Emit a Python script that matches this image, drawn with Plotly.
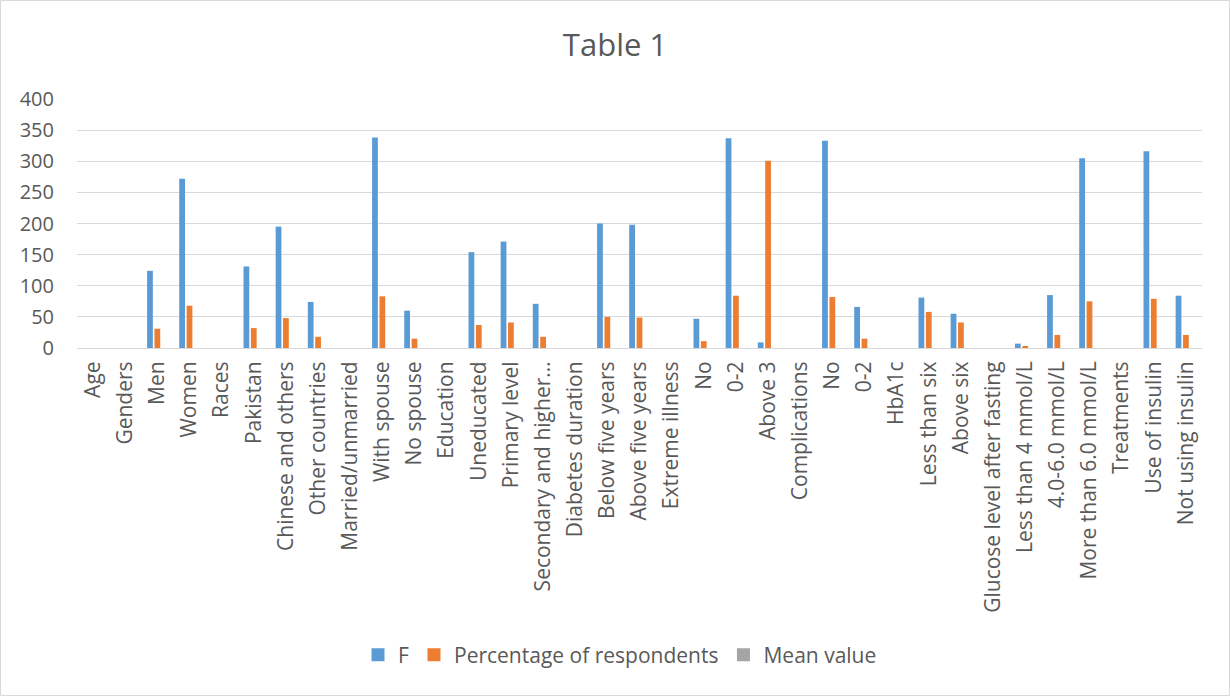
import plotly.graph_objects as go

categories = ["Age", "Genders", "Men", "Women", "Races", "Pakistan", "Chinese and others",
              "Other countries", "Married/unmarried", "With spouse", "No spouse", "Education",
              "Uneducated", "Primary level", "Secondary and higher…", "Diabetes duration",
              "Below five years", "Above five years", "Extreme illness", "No", "0-2", "Above 3",
              "Complications", "No", "0-2", "HbA1c", "Less than six", "Above six",
              "Glucose level after fasting", "Less than 4 mmol/L", "4.0-6.0 mmol/L",
              "More than 6.0 mmol/L", "Treatments", "Use of insulin", "Not using insulin"]

f_values = [None, None, 124, 272, None, 131, 195, 74, None, 338, 60, None,
            154, 171, 71, None, 200, 198, None, 47, 337, 9,
            None, 333, 66, None, 81, 55, None, 7, 85, 305, None, 316, 84]

pct_values = [None, None, 31, 68, None, 32, 48, 18, None, 83, 15, None,
              37, 41, 18, None, 50, 49, None, 11, 84, 301,
              None, 82, 15, None, 58, 41, None, 2, 21, 75, None, 79, 21]

mean_values = [None] * len(categories)

series_names = ["F", "Percentage of respondents", "Mean value"]
series_colors = ["#5B9BD5", "#ED7D31", "#A5A5A5"]

x_idx = list(range(len(categories)))

fig = go.Figure()
for name, vals, col in zip(series_names, [f_values, pct_values, mean_values], series_colors):
    fig.add_trace(go.Bar(x=x_idx, y=vals, name=name, legendgroup=name, showlegend=False,
                         marker=dict(color=col, line=dict(width=0))))
# legend entries drawn as square markers (as in the original legend)
for name, col in zip(series_names, series_colors):
    fig.add_trace(go.Scatter(x=[None], y=[None], mode="markers", name=name, legendgroup=name,
                             marker=dict(symbol="square", size=13, color=col)))

W, H = 1230, 696
ml, mr, mt, mb = 77, 28, 99, 348
pw = W - ml - mr
ph = H - mt - mb

def px_to_paper_x(px):
    return (px - ml) / pw

def px_to_paper_y(py):
    return (H - mb - py) / ph

grey_text = "#595959"
font_family = "Open Sans, DejaVu Sans, sans-serif"

fig.update_layout(
    width=W, height=H,
    margin=dict(l=ml, r=mr, t=mt, b=mb, autoexpand=False),
    paper_bgcolor="white", plot_bgcolor="white",
    barmode="group", bargap=0.31, bargroupgap=0.22,
    font=dict(family=font_family, color=grey_text, size=18),
    title=dict(text="Table 1", x=0.5, xref="container", xanchor="center",
               y=1 - 45 / H, yref="container", yanchor="middle",
               font=dict(size=31, color=grey_text, family=font_family)),
    xaxis=dict(tickmode="array", tickvals=x_idx, ticktext=categories,
               tickangle=-90, range=[-0.5, len(categories) - 0.5],
               showgrid=False, zeroline=False, showline=True, linecolor="#D9D9D9",
               linewidth=1, ticks="", automargin=False, ticklabelstandoff=4,
               tickfont=dict(size=21, color=grey_text, family=font_family)),
    yaxis=dict(range=[0, 400], dtick=50, showgrid=True, gridcolor="#D9D9D9", gridwidth=1,
               zeroline=False, showline=False, ticks="", automargin=False,
               ticklabelstandoff=22,
               tickfont=dict(size=20, color=grey_text, family=font_family)),
    legend=dict(orientation="h", x=px_to_paper_x(620 - 22 + 22), xanchor="center",
                y=px_to_paper_y(655), yanchor="middle",
                font=dict(size=21, color=grey_text, family=font_family),
                itemwidth=30, traceorder="normal"),
    showlegend=True,
    shapes=[dict(type="rect", xref="paper", yref="paper",
                 x0=px_to_paper_x(0.5), x1=px_to_paper_x(W - 0.5),
                 y0=px_to_paper_y(H - 0.5), y1=px_to_paper_y(0.5),
                 line=dict(color="#D9D9D9", width=1), fillcolor="rgba(0,0,0,0)", layer="below")],
)

fig.write_html("out.html")
